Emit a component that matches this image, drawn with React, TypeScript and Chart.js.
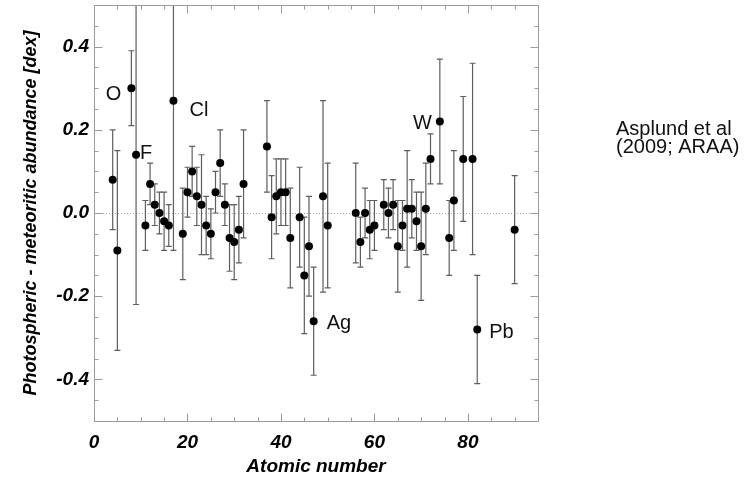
import React, { useEffect, useRef } from 'react';
import { Chart, registerables } from 'chart.js';

Chart.register(...registerables);

// ---- data ----
const ATOMIC_NUMBERS = [
  4, 5, 8, 9, 11, 12, 13, 14, 15, 16, 17, 19, 20, 21, 22, 23, 24, 25, 26, 27,
  28, 29, 30, 31, 32, 37, 38, 39, 40, 41, 42, 44, 45, 46, 47, 49, 50, 56, 57, 58,
  59, 60, 62, 63, 64, 65, 66, 67, 68, 69, 70, 71, 72, 74, 76, 77, 79, 81, 82, 90,
];
const DIFFERENCES = [
  0.08, -0.09, 0.30, 0.14, -0.03, 0.07, 0.02, 0.00, -0.02, -0.03, 0.27, -0.05, 0.05, 0.10, 0.04, 0.02, -0.03, -0.05, 0.05, 0.12,
  0.02, -0.06, -0.07, -0.04, 0.07, 0.16, -0.01, 0.04, 0.05, 0.05, -0.06, -0.01, -0.15, -0.08, -0.26, 0.04, -0.03, 0.00, -0.07, 0.00,
  -0.04, -0.03, 0.02, 0.00, 0.02, -0.08, -0.03, 0.01, 0.01, -0.02, -0.08, 0.01, 0.13, 0.22, -0.06, 0.03, 0.13, 0.13, -0.28, -0.04,
];
const ERRORS = [
  0.12, 0.24, 0.09, 0.36, 0.06, 0.05, 0.05, 0.05, 0.07, 0.05, 0.36, 0.11, 0.06, 0.06, 0.07, 0.12, 0.07, 0.06, 0.05, 0.08,
  0.05, 0.08, 0.09, 0.08, 0.13, 0.11, 0.10, 0.09, 0.08, 0.08, 0.12, 0.12, 0.14, 0.12, 0.13, 0.23, 0.15, 0.12, 0.06, 0.06,
  0.07, 0.06, 0.06, 0.06, 0.06, 0.11, 0.06, 0.14, 0.07, 0.07, 0.13, 0.11, 0.06, 0.15, 0.09, 0.12, 0.15, 0.23, 0.13, 0.13,
];
const X_TICK_LABELS = [0, 20, 40, 60, 80];
const Y_TICK_LABELS = [-0.4, -0.2, 0.0, 0.2, 0.4];
const X_MIN = 0;
const X_MAX = 95;
const Y_MIN = -0.5;
const Y_MAX = 0.5;
const X_MINOR_STEP = 5;
const Y_MINOR_STEP = 0.05;
const ANNOT_Z = [8, 9, 17, 47, 74, 82];
const ANNOT_TEXT = ['O', 'F', 'Cl', 'Ag', 'W', 'Pb'];
const NOTE_LINES = ['Asplund et al', '(2009; ARAA)'];
const X_TITLE = 'Atomic number';
const Y_TITLE = 'Photospheric - meteoritic abundance [dex]';

// ---- layout / style (not data) ----
const ANNOT_LAYOUT: Record<string, { dx: number; dy: number; align: CanvasTextAlign }> = {
  O: { dx: -10, dy: 12, align: 'right' },
  F: { dx: 4, dy: 4, align: 'left' },
  Cl: { dx: 16, dy: 15, align: 'left' },
  Ag: { dx: 13, dy: 8, align: 'left' },
  W: { dx: -8, dy: 8, align: 'right' },
  Pb: { dx: 12, dy: 9, align: 'left' },
};
const SANS = '"Liberation Sans", Arial, Helvetica, sans-serif';

const decorPlugin = {
  id: 'decor',
  beforeDatasetsDraw(chart: any) {
    const { ctx, chartArea: a, scales } = chart;
    const x = scales.x;
    const y = scales.y;
    ctx.save();
    ctx.beginPath();
    ctx.rect(a.left, a.top, a.right - a.left, a.bottom - a.top);
    ctx.clip();
    // dotted zero line
    const y0 = Math.round(y.getPixelForValue(0)) + 0.5;
    ctx.strokeStyle = '#a8a8a8';
    ctx.lineWidth = 1;
    ctx.setLineDash([1, 2]);
    ctx.beginPath();
    ctx.moveTo(a.left, y0);
    ctx.lineTo(a.right, y0);
    ctx.stroke();
    ctx.setLineDash([]);
    // error bars
    ctx.strokeStyle = '#5e5e5e';
    ctx.lineWidth = 1.2;
    ATOMIC_NUMBERS.forEach((z, i) => {
      const px = x.getPixelForValue(z);
      const yt = y.getPixelForValue(DIFFERENCES[i] + ERRORS[i]);
      const yb = y.getPixelForValue(DIFFERENCES[i] - ERRORS[i]);
      ctx.beginPath();
      ctx.moveTo(px, yt);
      ctx.lineTo(px, yb);
      ctx.moveTo(px - 3, yt);
      ctx.lineTo(px + 3, yt);
      ctx.moveTo(px - 3, yb);
      ctx.lineTo(px + 3, yb);
      ctx.stroke();
    });
    ctx.restore();
  },
  afterDraw(chart: any) {
    const { ctx, chartArea: a, scales } = chart;
    const x = scales.x;
    const y = scales.y;
    ctx.save();
    // frame
    ctx.strokeStyle = '#9a9a9a';
    ctx.lineWidth = 1;
    const L = Math.round(a.left) + 0.5;
    const R = Math.round(a.right) + 0.5;
    const T = Math.round(a.top) + 0.5;
    const B = Math.round(a.bottom) + 0.5;
    ctx.strokeRect(L, T, R - L, B - T);
    // x ticks (inward, bottom and top)
    ctx.beginPath();
    const nx = Math.round((X_MAX - X_MIN) / X_MINOR_STEP);
    for (let k = 0; k <= nx; k++) {
      const v = X_MIN + k * X_MINOR_STEP;
      const major = X_TICK_LABELS.some((t) => Math.abs(t - v) < 1e-9);
      const len = major ? 8 : 4;
      const px = Math.round(x.getPixelForValue(v)) + 0.5;
      ctx.moveTo(px, B);
      ctx.lineTo(px, B - len);
      ctx.moveTo(px, T);
      ctx.lineTo(px, T + len);
    }
    // y ticks (inward, left and right)
    const ny = Math.round((Y_MAX - Y_MIN) / Y_MINOR_STEP);
    for (let k = 0; k <= ny; k++) {
      const v = Y_MIN + k * Y_MINOR_STEP;
      const major = Y_TICK_LABELS.some((t) => Math.abs(t - v) < 1e-6);
      const len = major ? 8 : 4;
      const py = Math.round(y.getPixelForValue(v)) + 0.5;
      ctx.moveTo(L, py);
      ctx.lineTo(L + len, py);
      ctx.moveTo(R, py);
      ctx.lineTo(R - len, py);
    }
    ctx.stroke();

    // element annotations
    ctx.fillStyle = '#111';
    ctx.font = `20px ${SANS}`;
    ctx.textBaseline = 'alphabetic';
    ANNOT_Z.forEach((z, i) => {
      const idx = ATOMIC_NUMBERS.indexOf(z);
      const text = ANNOT_TEXT[i];
      const lay = ANNOT_LAYOUT[text];
      const px = x.getPixelForValue(z);
      const py = y.getPixelForValue(DIFFERENCES[idx]);
      ctx.textAlign = lay.align;
      ctx.fillText(text, px + lay.dx, py + lay.dy);
    });

    // side note
    ctx.textAlign = 'left';
    ctx.font = `20px ${SANS}`;
    NOTE_LINES.forEach((line, i) => {
      ctx.fillText(line, 616, 135 + i * 18);
    });
    ctx.restore();
  },
};

export default function App() {
  const canvasRef = useRef<HTMLCanvasElement | null>(null);

  useEffect(() => {
    const canvas = canvasRef.current;
    if (!canvas) return;
    const tickFont = { family: SANS, size: 19, weight: 'bold' as const, style: 'italic' as const };
    const chart = new Chart(canvas, {
      type: 'scatter',
      data: {
        datasets: [
          {
            data: ATOMIC_NUMBERS.map((z, i) => ({ x: z, y: DIFFERENCES[i] })),
            pointRadius: 4,
            pointHoverRadius: 4,
            backgroundColor: '#000',
            borderColor: '#000',
            borderWidth: 0,
            showLine: false,
          },
        ],
      },
      options: {
        animation: false,
        responsive: false,
        devicePixelRatio: 1,
        layout: { padding: { left: 0, top: 5, right: 218, bottom: 0 } },
        plugins: { legend: { display: false }, tooltip: { enabled: false } },
        events: [],
        scales: {
          x: {
            type: 'linear',
            min: X_MIN,
            max: X_MAX,
            grid: { display: false, drawTicks: false },
            border: { display: false },
            afterBuildTicks: (s: any) => {
              s.ticks = X_TICK_LABELS.map((v) => ({ value: v }));
            },
            afterFit: (s: any) => {
              s.height = 58;
              s.paddingLeft = 0;
              s.paddingRight = 0;
            },
            ticks: {
              padding: 10,
              color: '#000',
              font: tickFont,
              maxRotation: 0,
              autoSkip: false,
              callback: (v: any) => String(v),
            },
            title: {
              display: true,
              text: X_TITLE,
              color: '#000',
              font: { family: SANS, size: 19, weight: 'bold', style: 'italic' },
              padding: { top: 0, bottom: 1 },
            },
          },
          y: {
            type: 'linear',
            min: Y_MIN,
            max: Y_MAX,
            grid: { display: false, drawTicks: false },
            border: { display: false },
            afterBuildTicks: (s: any) => {
              s.ticks = Y_TICK_LABELS.map((v) => ({ value: v }));
            },
            afterFit: (s: any) => {
              s.width = 94;
              s.paddingTop = 0;
              s.paddingBottom = 0;
            },
            ticks: {
              padding: 5,
              color: '#000',
              font: tickFont,
              autoSkip: false,
              callback: (v: any) => Number(v).toFixed(1),
            },
            title: {
              display: true,
              text: Y_TITLE,
              color: '#000',
              font: { family: SANS, size: 18, weight: 'bold', style: 'italic' },
              padding: { top: 20, bottom: 0 },
            },
          },
        },
      },
      plugins: [decorPlugin],
    });
    return () => chart.destroy();
  }, []);

  return (
    <div style={{ position: 'absolute', left: 0, top: 0, width: 756, height: 479, background: '#fff' }}>
      <canvas ref={canvasRef} width={756} height={479} style={{ display: 'block' }} />
    </div>
  );
}
